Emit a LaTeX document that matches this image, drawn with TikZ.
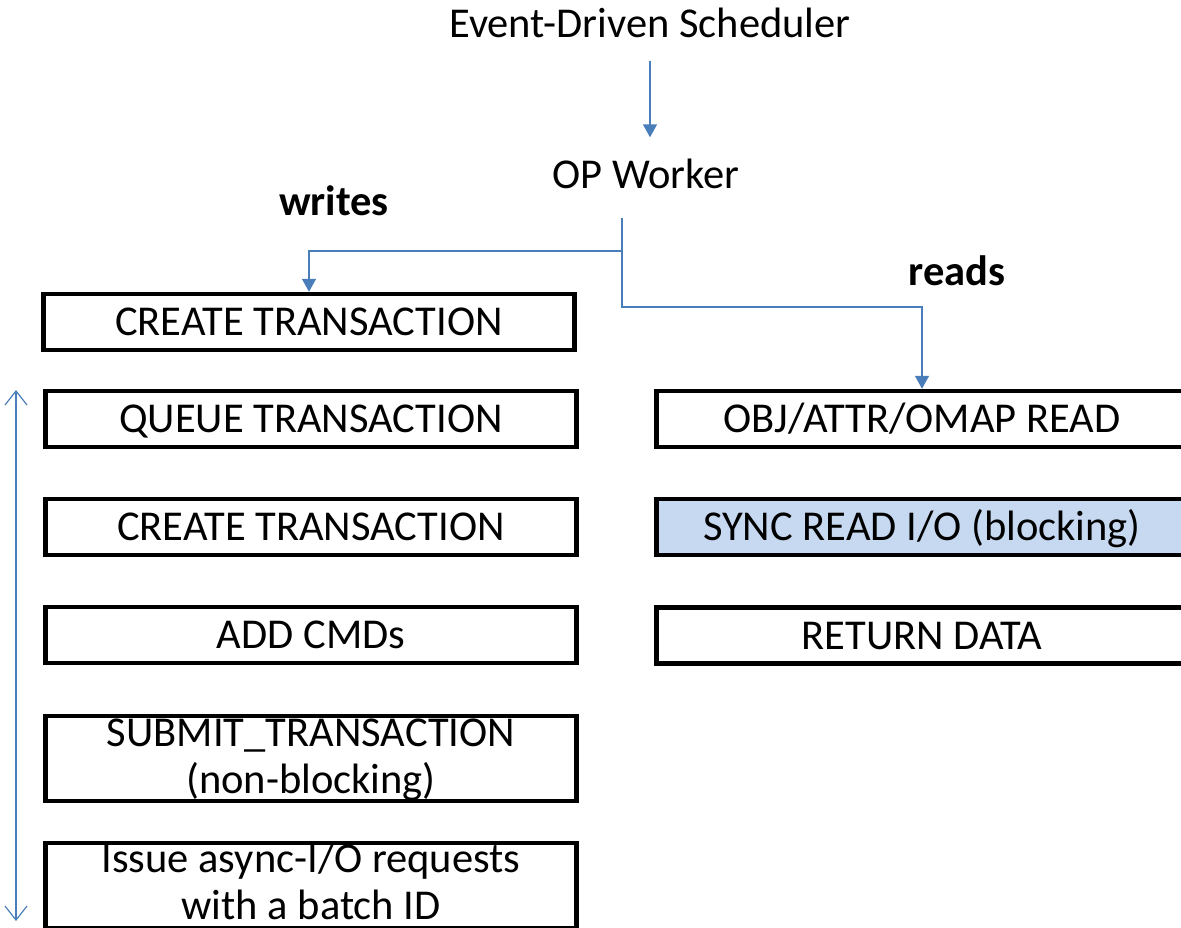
\documentclass[tikz,border=0pt]{standalone}
\usepackage{fontspec}
\setmainfont{Carlito}
\usetikzlibrary{arrows.meta,calc}
\definecolor{flowblue}{HTML}{4A7EBB}
\definecolor{blockfill}{HTML}{C6D9F1}

\begin{document}
\begin{tikzpicture}[x=1pt,y=-1pt,
  every node/.style={font=\fontsize{42.5}{47}\selectfont},
  stage/.style={draw=black, line width=4.5pt, minimum width=531pt, minimum height=56pt,
                inner sep=0pt, text height=27pt, text depth=0pt},
  tall/.style={draw=black, line width=4.5pt, minimum width=531pt, minimum height=85pt, inner sep=0pt},
  caption/.style={inner sep=0pt, anchor=base, align=center},
  title/.style={inner sep=0pt, anchor=base},
  tag/.style={inner sep=0pt, anchor=base, font=\fontsize{42.5}{47}\selectfont\bfseries},
  flow/.style={draw=flowblue, line width=1.6pt},
  tip/.style={-{Triangle[width=14pt,length=13pt]}},
  span/.style={draw=flowblue, line width=1.2pt,
               {Straight Barb[length=14pt,width=22pt]}-{Straight Barb[length=14pt,width=22pt]}}]

\useasboundingbox (0,0) rectangle (1181,927);
\clip (0,0) rectangle (1181,927);

% headings
\node[title] (sched) at (650,37) {Event-Driven Scheduler};
\node[title] (opw) at (646,188) {OP Worker};
\node[tag] (writes) at (334,215) {writes};
\node[tag] (reads) at (957,285) {reads};

% write path
\node[stage] (create1) at (309,322) {CREATE TRANSACTION};
\node[stage] (queue)   at (311,419) {QUEUE TRANSACTION};
\node[stage] (create2) at (311,527) {CREATE TRANSACTION};
\node[stage] (addcmd)  at (311,635) {ADD CMDs};
\node[tall]  (submit)  at (311,758.5) {};
\node[caption] (submittxt) at ($(submit.north)+(0,80)$) {SUBMIT\_TRANSACTION\\(non-blocking)};
\node[tall]  (issue)   at (311,885.5) {};
\node[caption] (issuetxt) at ($(issue.north)+(0,79)$) {Issue async-I/O requests\\with a batch ID};

% read path
\node[stage] (objread) at (922,419) {OBJ/ATTR/OMAP READ};
\node[stage, fill=blockfill] (syncread) at (922,527) {SYNC READ I/O (blocking)};
\node[stage] (retdata) at (922,635.5) {RETURN DATA};

% connectors
\coordinate (fork) at (622,218);
\draw[flow, tip, shorten <=23pt, shorten >=21pt] (sched.south) -- (sched.south |- opw.north);
\draw[flow, tip] (fork) -- ++(0,89) -| (objread.north);
\draw[flow, tip] (fork) ++(0,33) -| (create1.north);

% extent of the batched write sequence
\coordinate (spantop) at (16,390);
\coordinate (spanbot) at (16,921);
\draw[span] (spantop) -- (spanbot);
\end{tikzpicture}
\end{document}
